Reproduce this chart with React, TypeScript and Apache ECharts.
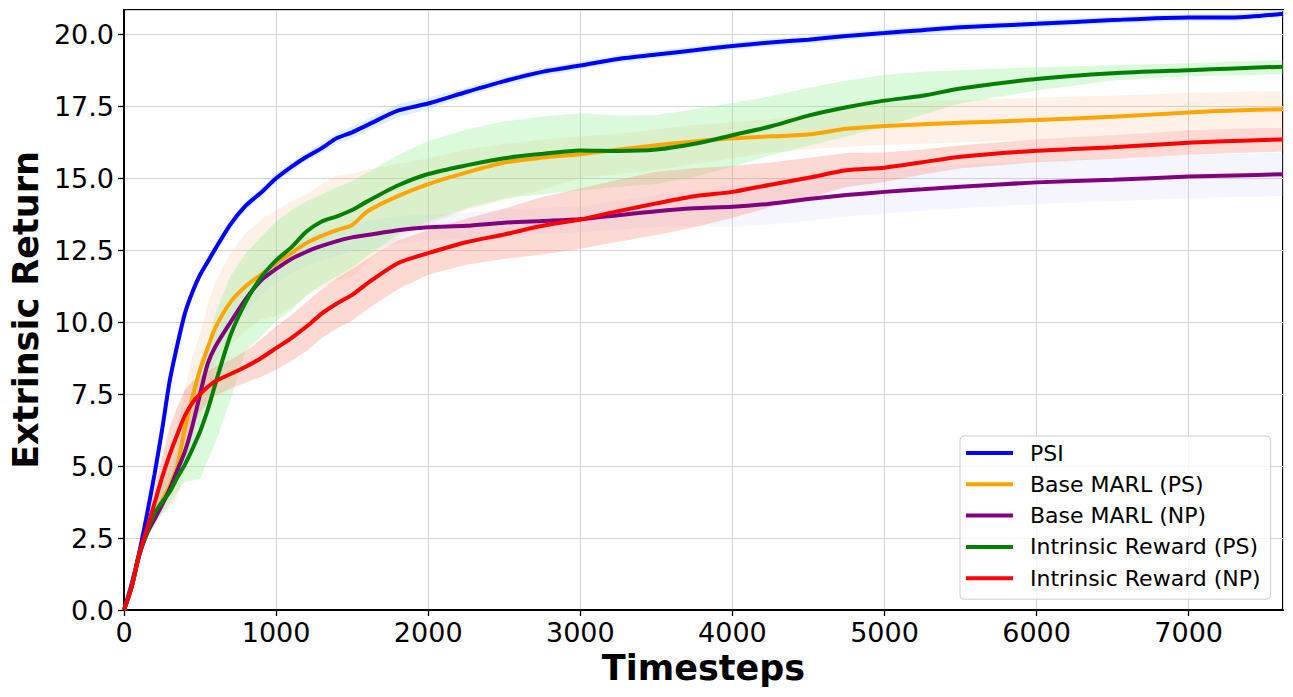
import React, { useEffect, useRef } from "react";
import * as echarts from "echarts";

const X = [0, 50, 100, 150, 200, 250, 300, 350, 400, 450, 500, 550, 600, 700, 800, 900, 1000, 1100, 1200, 1300, 1400, 1500, 1600, 1800, 2000, 2250, 2500, 2750, 3000, 3250, 3500, 3750, 4000, 4250, 4500, 4750, 5000, 5250, 5500, 6000, 6500, 7000, 7300, 7620];

const psiMean = [0, 0.9, 2.0, 3.3, 4.7, 6.25, 7.95, 9.2, 10.3, 11.05, 11.65, 12.1, 12.55, 13.4, 14.05, 14.5, 15.0, 15.4, 15.75, 16.05, 16.4, 16.6, 16.85, 17.35, 17.6, 18.0, 18.38, 18.7, 18.92, 19.15, 19.3, 19.45, 19.6, 19.72, 19.82, 19.95, 20.05, 20.15, 20.25, 20.37, 20.5, 20.59, 20.59, 20.72];
const psiHigh = [0, 0.95, 2.1, 3.45, 4.85, 6.4, 8.1, 9.35, 10.45, 11.2, 11.8, 12.25, 12.7, 13.55, 14.2, 14.65, 15.15, 15.55, 15.9, 16.22, 16.58, 16.8, 17.05, 17.58, 17.8, 18.15, 18.52, 18.84, 19.06, 19.28, 19.43, 19.58, 19.73, 19.85, 19.95, 20.08, 20.18, 20.28, 20.38, 20.5, 20.62, 20.71, 20.72, 20.84];
const psiLow = [0, 0.85, 1.9, 3.15, 4.55, 6.1, 7.8, 9.05, 10.15, 10.9, 11.5, 11.95, 12.4, 13.25, 13.9, 14.35, 14.85, 15.25, 15.6, 15.88, 16.22, 16.4, 16.65, 17.12, 17.4, 17.85, 18.24, 18.56, 18.78, 19.02, 19.17, 19.32, 19.47, 19.59, 19.69, 19.82, 19.92, 20.02, 20.12, 20.24, 20.38, 20.47, 20.46, 20.6];

const basePsMean = [0, 0.8, 1.9, 2.65, 3.2, 3.8, 4.3, 5.0, 6.3, 7.4, 8.35, 9.1, 9.8, 10.7, 11.25, 11.65, 12.05, 12.4, 12.75, 13.0, 13.2, 13.38, 13.85, 14.38, 14.8, 15.2, 15.55, 15.72, 15.84, 16.0, 16.15, 16.28, 16.39, 16.46, 16.52, 16.72, 16.82, 16.88, 16.93, 17.03, 17.14, 17.29, 17.36, 17.4];
const basePsHigh = [0, 0.85, 2.0, 2.8, 3.5, 4.4, 5.3, 6.4, 7.7, 8.8, 9.6, 10.6, 11.4, 12.4, 13.1, 13.55, 13.9, 14.2, 14.45, 14.8, 15.1, 15.17, 15.3, 15.5, 15.7, 16.0, 16.2, 16.35, 16.45, 16.55, 16.7, 16.85, 16.95, 17.05, 17.25, 17.45, 17.6, 17.68, 17.72, 17.8, 17.88, 17.97, 18.0, 18.04];
const basePsLow = [0, 0.75, 1.8, 2.5, 2.9, 3.3, 3.6, 3.9, 4.8, 5.7, 6.6, 7.4, 8.3, 9.2, 9.7, 10.1, 10.22, 10.5, 10.9, 11.2, 11.45, 11.58, 12.1, 12.9, 13.4, 13.9, 14.25, 14.6, 15.0, 15.15, 15.3, 15.5, 15.7, 15.9, 16.0, 16.1, 16.16, 16.2, 16.25, 16.35, 16.5, 16.65, 16.72, 16.78];

const baseNpMean = [0, 0.8, 1.9, 2.65, 3.15, 3.65, 4.2, 4.85, 5.5, 6.4, 7.5, 8.55, 9.15, 10.0, 10.8, 11.45, 11.85, 12.2, 12.45, 12.65, 12.82, 12.95, 13.03, 13.2, 13.3, 13.35, 13.46, 13.52, 13.58, 13.72, 13.86, 13.96, 14.01, 14.12, 14.28, 14.42, 14.53, 14.62, 14.71, 14.86, 14.95, 15.06, 15.1, 15.14];
const baseNpHigh = [0, 0.85, 2.0, 2.8, 3.35, 3.9, 4.5, 5.2, 5.9, 6.85, 8.0, 9.05, 9.65, 10.5, 11.3, 11.95, 12.35, 12.7, 12.95, 13.15, 13.32, 13.45, 13.53, 13.68, 13.75, 13.8, 13.91, 13.97, 14.03, 14.22, 14.41, 14.58, 14.71, 14.84, 15.03, 15.17, 15.28, 15.37, 15.46, 15.61, 15.7, 15.81, 15.85, 15.89];
const baseNpLow = [0, 0.75, 1.8, 2.5, 2.95, 3.4, 3.9, 4.5, 5.1, 5.95, 7.0, 8.05, 8.65, 9.5, 10.3, 10.95, 11.35, 11.7, 11.95, 12.15, 12.32, 12.45, 12.53, 12.72, 12.85, 12.9, 13.01, 13.07, 13.13, 13.22, 13.31, 13.34, 13.31, 13.4, 13.53, 13.67, 13.78, 13.87, 13.96, 14.11, 14.2, 14.31, 14.35, 14.39];

const irPsMean = [0, 0.8, 1.9, 2.7, 3.35, 3.75, 4.1, 4.6, 5.05, 5.6, 6.2, 6.95, 7.85, 9.55, 10.7, 11.55, 12.15, 12.6, 13.15, 13.5, 13.68, 13.9, 14.2, 14.75, 15.15, 15.45, 15.7, 15.85, 15.97, 15.95, 16.0, 16.2, 16.5, 16.8, 17.18, 17.47, 17.7, 17.87, 18.12, 18.45, 18.65, 18.76, 18.82, 18.88];
const irPsHigh = [0, 0.85, 2.0, 2.9, 3.7, 4.3, 4.9, 5.6, 6.4, 7.4, 8.4, 9.3, 10.3, 11.6, 12.4, 12.95, 13.5, 13.9, 14.2, 14.45, 14.7, 14.9, 15.2, 15.8, 16.3, 16.7, 16.98, 17.15, 17.26, 17.18, 17.2, 17.4, 17.62, 17.85, 18.15, 18.4, 18.59, 18.7, 18.76, 18.86, 18.93, 19.0, 19.06, 19.11];
const irPsLow = [0, 0.75, 1.8, 2.5, 3.0, 3.35, 3.7, 4.1, 4.45, 4.5, 4.55, 5.2, 5.8, 7.3, 9.0, 9.5, 10.05, 10.4, 10.95, 11.3, 11.6, 11.9, 12.3, 13.05, 13.5, 13.95, 14.3, 14.45, 14.59, 14.7, 14.8, 15.05, 15.4, 15.8, 16.13, 16.45, 16.79, 17.2, 17.61, 18.05, 18.4, 18.55, 18.58, 18.62];

const irNpMean = [0, 0.8, 1.95, 2.8, 3.7, 4.6, 5.4, 6.1, 6.75, 7.2, 7.5, 7.75, 7.95, 8.2, 8.45, 8.75, 9.1, 9.45, 9.85, 10.3, 10.65, 10.95, 11.35, 12.05, 12.4, 12.78, 13.05, 13.35, 13.57, 13.86, 14.13, 14.38, 14.53, 14.78, 15.02, 15.28, 15.37, 15.56, 15.75, 15.96, 16.08, 16.24, 16.3, 16.35];
const irNpHigh = [0, 0.85, 2.05, 3.1, 4.2, 5.3, 6.35, 7.05, 7.65, 7.95, 8.1, 8.3, 8.45, 8.7, 9.0, 9.4, 9.85, 10.25, 10.7, 11.15, 11.53, 11.85, 12.2, 12.85, 13.2, 13.6, 13.95, 14.35, 14.65, 14.95, 15.23, 15.35, 15.43, 15.55, 15.72, 15.88, 15.9, 16.0, 16.15, 16.36, 16.5, 16.66, 16.72, 16.77];
const irNpLow = [0, 0.75, 1.85, 2.6, 3.2, 3.75, 4.45, 5.05, 5.85, 6.45, 6.9, 7.2, 7.45, 7.7, 7.9, 8.1, 8.35, 8.65, 9.0, 9.45, 9.78, 10.05, 10.45, 11.15, 11.65, 12.0, 12.2, 12.35, 12.55, 12.8, 13.03, 13.3, 13.63, 14.0, 14.32, 14.7, 14.87, 15.13, 15.35, 15.56, 15.68, 15.82, 15.88, 15.93];

const seriesNames = ["PSI", "Base MARL (PS)", "Base MARL (NP)", "Intrinsic Reward (PS)", "Intrinsic Reward (NP)"];
const lineColors = ["#0000ff", "#ffa500", "#800080", "#008000", "#ff0000"];
const bandColors = [
  "rgba(135,206,235,0.30)",
  "rgba(250,170,110,0.16)",
  "rgba(200,200,245,0.18)",
  "rgba(144,238,144,0.32)",
  "rgba(250,128,114,0.30)",
];
const means = [psiMean, basePsMean, baseNpMean, irPsMean, irNpMean];
const lows = [psiLow, basePsLow, baseNpLow, irPsLow, irNpLow];
const highs = [psiHigh, basePsHigh, baseNpHigh, irPsHigh, irNpHigh];

const X_MAX = 7620;
const Y_MAX = 20.85;
const FONT = "DejaVu Sans";
const SMOOTH = 0.25;

export default function App() {
  const ref = useRef<HTMLDivElement>(null);

  useEffect(() => {
    if (!ref.current) return;
    const chart = echarts.init(ref.current, undefined, { renderer: "svg" });

    const bandSeries = seriesNames.map((name, k) => ({
      type: "custom",
      name: "band-" + k,
      silent: true,
      z: 1,
      data: [[0, 0]],
      renderItem: (params: any, api: any) => {
        const upper = X.map((x, i) => api.coord([x, highs[k][i]]));
        const lower = X.map((x, i) => api.coord([x, lows[k][i]])).reverse();
        return {
          type: "polygon",
          shape: { points: upper.concat(lower), smooth: 0 },
          style: { fill: bandColors[k], stroke: "none" },
        };
      },
    }));

    const lineSeries = seriesNames.map((name, k) => ({
      type: "line",
      name,
      data: X.map((x, i) => [x, means[k][i]]),
      symbol: "none",
      smooth: SMOOTH,
      color: lineColors[k],
      lineStyle: { color: lineColors[k], width: 4 },
      z: 3,
    }));

    chart.setOption({
      animation: false,
      backgroundColor: "#ffffff",
      textStyle: { fontFamily: FONT },
      grid: {
        left: 121,
        right: 10,
        top: 10,
        bottom: 87,
        show: true,
        borderColor: "#000",
        borderWidth: 2,
        backgroundColor: "transparent",
      },
      legend: {
        data: seriesNames,
        orient: "vertical",
        left: 960,
        top: 436,
        padding: [6, 10, 10, 6],
        itemWidth: 47,
        itemHeight: 4,
        itemGap: 9.3,
        icon: "rect",
        backgroundColor: "rgba(255,255,255,0.8)",
        borderColor: "#cccccc",
        borderWidth: 1,
        borderRadius: 4,
        textStyle: {
          fontFamily: FONT,
          fontSize: 22,
          color: "#000",
          lineHeight: 22,
          padding: [0, 0, 0, 12],
        },
      },
      xAxis: {
        type: "value",
        min: 0,
        max: X_MAX,
        interval: 1000,
        name: "Timesteps",
        nameLocation: "middle",
        nameGap: 38,
        nameTextStyle: { fontFamily: FONT, fontSize: 35, fontWeight: "bold", color: "#000" },
        axisLine: { show: true, lineStyle: { color: "#000", width: 2 } },
        axisTick: { show: true, inside: false, length: 6, lineStyle: { color: "#000", width: 1.3 } },
        axisLabel: {
          fontFamily: FONT,
          fontSize: 27,
          color: "#000",
          margin: 9,
          showMaxLabel: false,
          formatter: (v: number) => (v % 1000 === 0 ? String(v) : ""),
        },
        splitLine: { show: true, lineStyle: { color: "#d3d3d3", width: 1 } },
      },
      yAxis: {
        type: "value",
        min: 0,
        max: Y_MAX,
        interval: 2.5,
        name: "Extrinsic Return",
        nameLocation: "middle",
        nameGap: 76,
        nameRotate: 90,
        nameTextStyle: { fontFamily: FONT, fontSize: 35, fontWeight: "bold", color: "#000" },
        axisLine: { show: true, lineStyle: { color: "#000", width: 2 } },
        axisTick: { show: true, inside: false, length: 6, lineStyle: { color: "#000", width: 1.3 } },
        axisLabel: {
          fontFamily: FONT,
          fontSize: 27,
          color: "#000",
          margin: 10,
          showMaxLabel: false,
          formatter: (v: number) => (Math.abs(v / 2.5 - Math.round(v / 2.5)) < 1e-6 ? v.toFixed(1) : ""),
        },
        splitLine: { show: true, lineStyle: { color: "#d3d3d3", width: 1 } },
      },
      series: [...bandSeries, ...lineSeries],
    });

    return () => {
      chart.dispose();
    };
  }, []);

  return (
    <div
      ref={ref}
      style={{ position: "fixed", left: 0, top: 0, width: 1293, height: 697, background: "#fff" }}
    />
  );
}
